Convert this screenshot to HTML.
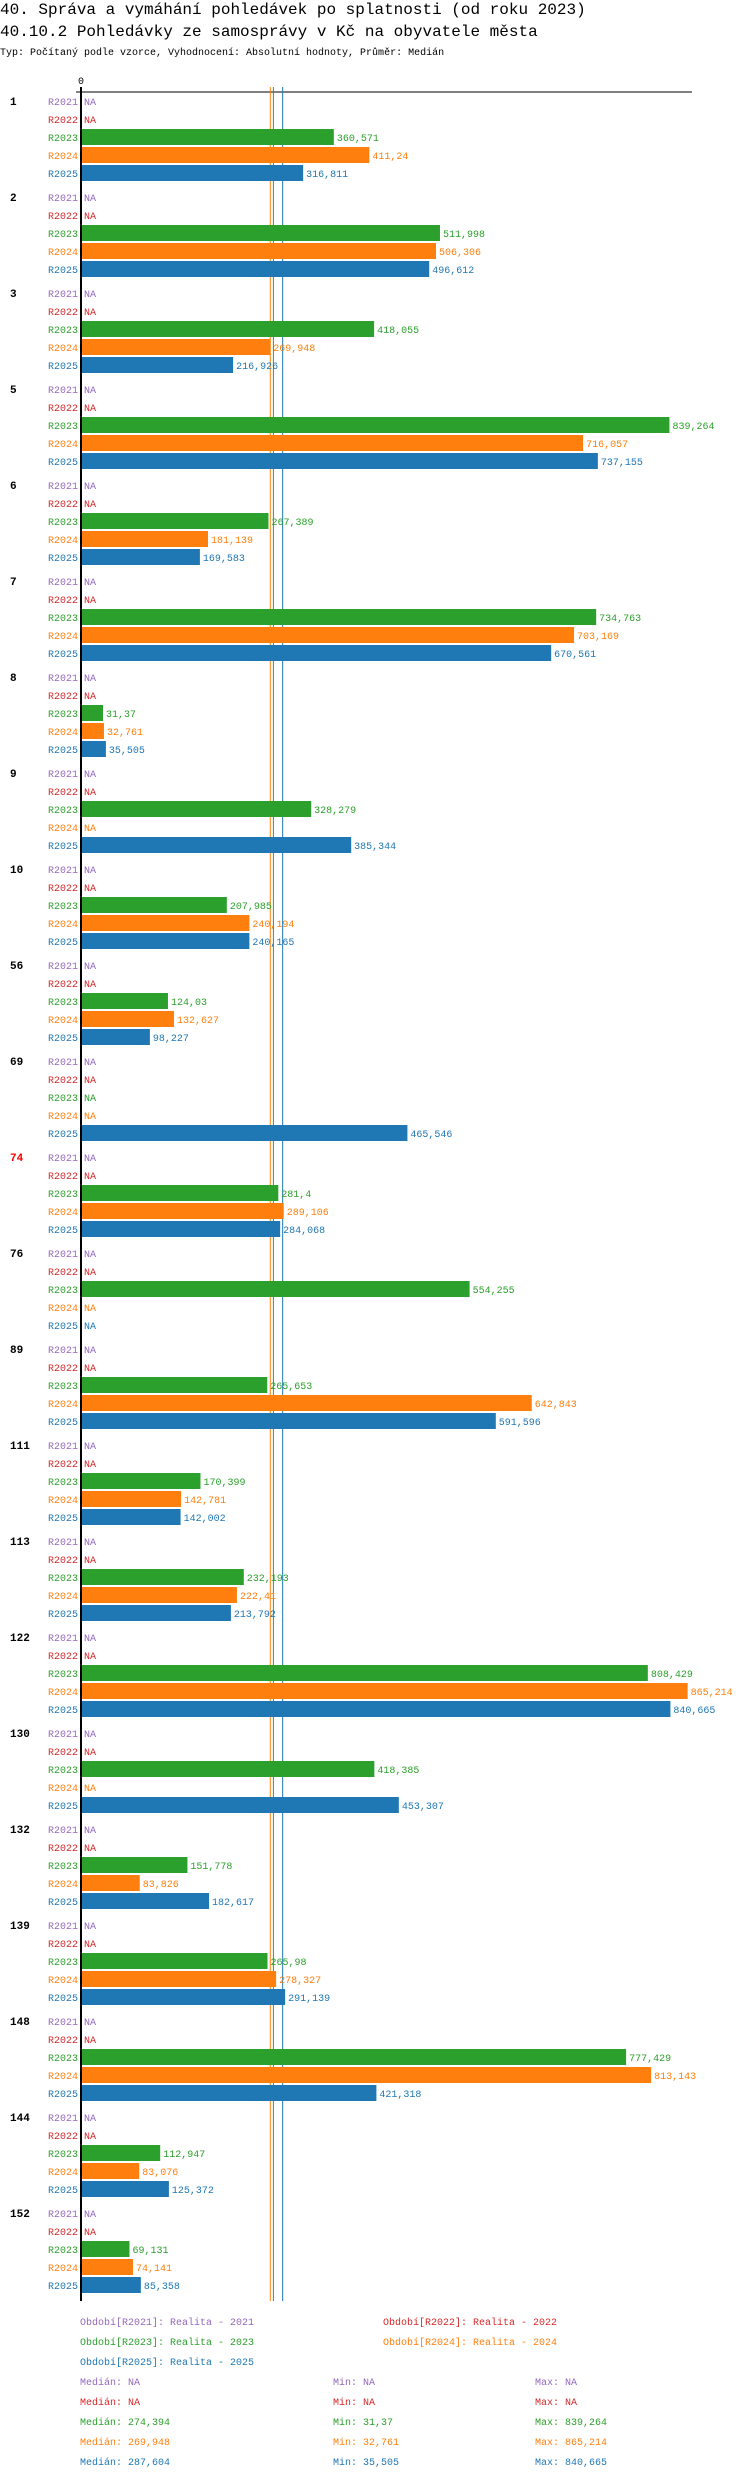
<!DOCTYPE html>
<html><head><meta charset="utf-8"><style>
html,body{margin:0;padding:0;background:#fff;}
body{width:750px;height:2480px;overflow:hidden;font-family:"Liberation Mono",monospace;}
svg text{font-family:"Liberation Mono",monospace;}
</style></head><body>
<svg id="chart" width="750" height="2480" xmlns="http://www.w3.org/2000/svg">
<text x="0" y="14" font-size="16">40. Správa a vymáhání pohledávek po splatnosti (od roku 2023)</text>
<text x="0" y="36" font-size="16">40.10.2 Pohledávky ze samosprávy v Kč na obyvatele města</text>
<text x="0" y="55" font-size="10">Typ: Počítaný podle vzorce, Vyhodnocení: Absolutní hodnoty, Průměr: Medián</text>
<text x="81" y="84" font-size="10" text-anchor="middle">0</text>
<line x1="76" y1="92" x2="692" y2="92" stroke="#000" stroke-width="1"/>
<g id="marks"></g>
<g id="legend"></g>
</svg>
<script>
const categories = ["1","2","3","5","6","7","8","9","10","56","69","74","76","89","111","113","122","130","132","139","148","144","152"];
const seriesNames = ["R2021","R2022","R2023","R2024","R2025"];
const seriesColors = ["#9467bd","#d62728","#2ca02c","#ff7f0e","#1f77b4"];
const r2021 = categories.map(()=>null);
const r2022 = categories.map(()=>null);
const r2023 = [360.571,511.998,418.055,839.264,267.389,734.763,31.37,328.279,207.985,124.03,null,281.4,554.255,265.653,170.399,232.193,808.429,418.385,151.778,265.98,777.429,112.947,69.131];
const r2024 = [411.24,506.306,269.948,716.057,181.139,703.169,32.761,null,240.194,132.627,null,289.106,null,642.843,142.781,222.41,865.214,null,83.826,278.327,813.143,83.076,74.141];
const r2025 = [316.811,496.612,216.926,737.155,169.583,670.561,35.505,385.344,240.165,98.227,465.546,284.068,null,591.596,142.002,213.792,840.665,453.307,182.617,291.139,421.318,125.372,85.358];
const medians = [null,null,274.394,269.948,287.604];
const mins = [null,null,31.37,32.761,35.505];
const maxs = [null,null,839.264,865.214,840.665];
const highlightCategory = "74";

const series = [r2021,r2022,r2023,r2024,r2025];
const NS = "http://www.w3.org/2000/svg";
const X0 = 81, XMAX = 870, WIDTH = 610;
function xScale(v){ return X0 + v/XMAX*WIDTH; }
const TOP = 101, GROUP = 96, ROW = 18, BAR_H = 16;
function yRow(g,s){ return TOP + g*GROUP + s*ROW; }
function fmt(v){ return String(v).replace('.',','); }
function el(tag, attrs, parent){ const e=document.createElementNS(NS,tag); for(const k in attrs) e.setAttribute(k,attrs[k]); parent.appendChild(e); return e; }

const marks = document.getElementById('marks');
const bottom = yRow(categories.length-1,4)+16;
// median lines
medians.forEach((m,i)=>{
  if(m==null) return;
  const l = el('line',{x1:xScale(m),x2:xScale(m),y1:87,y2:bottom,stroke:seriesColors[i],'stroke-width':1},marks);
  
  
});
categories.forEach((c,g)=>{
  const gl = el('text',{x:10,y:yRow(g,0)+4,'font-size':11,'font-weight':'bold',fill:c===highlightCategory?'#ff0000':'#000'},marks);
  gl.textContent = c;
  
  
  series.forEach((arr,s)=>{
    const yc = yRow(g,s);
    const sl = el('text',{x:78,y:yc+4,'font-size':10,'text-anchor':'end',fill:seriesColors[s]},marks);
    sl.textContent = seriesNames[s];
    
    
    const v = arr[g];
    if(v==null){
      const na = el('text',{x:84,y:yc+4,'font-size':10,fill:seriesColors[s]},marks);
      na.textContent='NA';
      
      
    } else {
      const b = el('rect',{x:X0,y:yc-BAR_H/2,width:xScale(v)-X0,height:BAR_H,fill:seriesColors[s]},marks);
      
      
      const vl = el('text',{x:xScale(v)+3,y:yc+4,'font-size':10,fill:seriesColors[s]},marks);
      vl.textContent = fmt(v);
      
      
    }
  });
});
const ax = el('line',{x1:X0,x2:X0,y1:87,y2:bottom,stroke:'#000','stroke-width':2},marks);



// legend
const leg = document.getElementById('legend');
const legPos = [[80,2325],[383,2325],[80,2345],[383,2345],[80,2365]];
seriesNames.forEach((n,i)=>{
  const t = el('text',{x:legPos[i][0],y:legPos[i][1],'font-size':10,fill:seriesColors[i]},leg);
  t.textContent = 'Období['+n+']: Realita - '+n.slice(1);
  
  
});
seriesNames.forEach((n,i)=>{
  const y = 2385 + i*20;
  const vals = [['Medián: ',medians[i],80],['Min: ',mins[i],333],['Max: ',maxs[i],535]];
  vals.forEach(([lab,v,x])=>{
    const t = el('text',{x:x,y:y,'font-size':10,fill:seriesColors[i]},leg);
    t.textContent = lab + (v==null?'NA':fmt(v));
    
    
  });
});
</script>
</body></html>
